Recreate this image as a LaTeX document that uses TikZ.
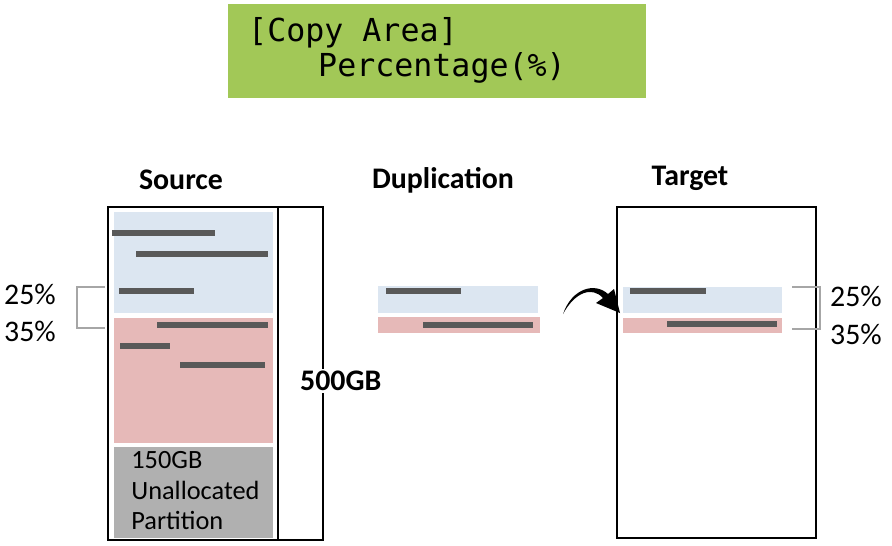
\documentclass[tikz,border=0pt]{standalone}
\usepackage{fontspec}
\setmainfont{Carlito}
\newfontfamily\lcd{DejaVu Sans Mono}
\begin{document}
\begin{tikzpicture}[x=0.02cm,y=-0.02cm,
 bar/.style={line width=0.13cm,color=bardark},
 lbl/.style={font=\fontsize{17}{17}\selectfont\bfseries},
 pct/.style={font=\fontsize{17}{17}\selectfont},
 brk/.style={draw=gray!70,line width=0.6pt}]
\definecolor{lcdgreen}{RGB}{162,200,87}
\definecolor{bl}{RGB}{220,230,241}
\definecolor{pk}{RGB}{230,185,184}
\definecolor{gr}{RGB}{176,176,176}
\definecolor{bardark}{RGB}{89,89,89}
\useasboundingbox (0,0) rectangle (892,545);
% LCD
\fill[lcdgreen] (228,4) rectangle (646,98);
\node[anchor=west,font=\lcd\fontsize{18}{18}\selectfont] (t1) at (242,33) {[Copy Area]};
\node[anchor=west,font=\lcd\fontsize{18}{18}\selectfont] (t2) at (312,68) {Percentage(\%)};
% headers
\node[lbl] (hs) at (181,180) {Source};
\node[lbl] (hd) at (443,180) {Duplication};
\node[lbl] (ht) at (690,178) {Target};
% source
\fill[bl] (114,212) rectangle (273,313);
\fill[pk] (114,318) rectangle (273,443);
\fill[gr] (114,447) rectangle (273,538);
\draw[line width=0.6pt] (108,207) rectangle (278,540);
\draw[line width=0.6pt] (278,207) rectangle (323,540);
\draw[bar] (112,233)--(215,233);
\draw[bar] (136,254)--(268,254);
\draw[bar] (119,291)--(194,291);
\draw[bar] (157,325)--(268,325);
\draw[bar] (120,346)--(170,346);
\draw[bar] (180,365)--(265,365);
\node[anchor=north west,align=left,font=\fontsize{15}{17.5}\selectfont,inner sep=0] (ua) at (131,451) {150GB\\Unallocated\\Partition};
\node[lbl,anchor=west,inner sep=1pt,fill=white] (sz) at (298,381) {500GB};
\draw[brk] (105,287)--(77,287)--(77,328)--(105,328);
\node[pct] (p1) at (30,294) {25\%};
\node[pct] (p2) at (30,331) {35\%};
% duplication
\fill[bl] (378,286) rectangle (538,313);
\fill[pk] (378,317) rectangle (540,333);
\draw[bar] (386,291)--(461,291);
\draw[bar] (423,325)--(533,325);
% arrow
\coordinate (a0) at (563,314);
\fill (a0) .. controls (575,292) and (592,286) .. (603,298) -- (596,303) -- (620,313) -- (614,289) -- (608,294) .. controls (595,282) and (572,288) .. (a0);
% target
\draw[line width=0.6pt] (617,207) rectangle (816,538);
\fill[bl] (623,287) rectangle (782,313);
\fill[pk] (623,318) rectangle (782,333);
\draw[bar] (630,291)--(706,291);
\draw[bar] (667,324)--(777,324);
\draw[brk] (792,287)--(820,287)--(820,329)--(792,329);
\node[pct] (p3) at (856,296) {25\%};
\node[pct] (p4) at (856,334) {35\%};
\end{tikzpicture}
\end{document}
